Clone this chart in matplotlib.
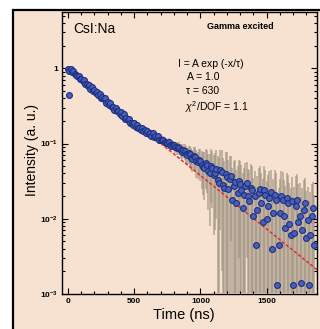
import numpy as np
import matplotlib
matplotlib.use("Agg")
import matplotlib.pyplot as plt
from matplotlib.patches import Rectangle
from matplotlib.ticker import LogLocator, FixedLocator, FuncFormatter, MultipleLocator

plt.rcParams['font.family'] = ['Liberation Sans', 'DejaVu Sans']
plt.rcParams['mathtext.fontset'] = 'custom'
plt.rcParams['mathtext.rm'] = 'Liberation Sans'
plt.rcParams['mathtext.it'] = 'Liberation Sans:italic'
plt.rcParams['mathtext.bf'] = 'Liberation Sans:bold'

# decay data, one row per 100 ns
time_ns = [0, 10, 20, 30, 40, 50, 60, 70, 80, 90,
           100, 110, 120, 130, 140, 150, 160, 170, 180, 190,
           200, 210, 220, 230, 240, 250, 260, 270, 280, 290,
           300, 310, 320, 330, 340, 350, 360, 370, 380, 390,
           400, 410, 420, 430, 440, 450, 460, 470, 480, 490,
           500, 510, 520, 530, 540, 550, 560, 570, 580, 590,
           600, 610, 620, 630, 640, 650, 660, 670, 680, 690,
           700, 710, 720, 730, 740, 750, 760, 770, 780, 790,
           800, 810, 820, 830, 840, 850, 860, 870, 880, 890,
           900, 910, 920, 930, 940, 950, 960, 970, 980, 990,
           1000, 1010, 1020, 1030, 1040, 1050, 1060, 1070, 1080, 1090,
           1100, 1110, 1120, 1130, 1140, 1150, 1160, 1170, 1180, 1190,
           1200, 1210, 1220, 1230, 1240, 1250, 1260, 1270, 1280, 1290,
           1300, 1310, 1320, 1330, 1340, 1350, 1360, 1370, 1380, 1390,
           1400, 1410, 1420, 1430, 1440, 1450, 1460, 1470, 1480, 1490,
           1500, 1510, 1520, 1530, 1540, 1550, 1560, 1570, 1580, 1590,
           1600, 1610, 1620, 1630, 1640, 1650, 1660, 1670, 1680, 1690,
           1700, 1710, 1720, 1730, 1740, 1750, 1760, 1770, 1780, 1790,
           1800, 1810, 1820, 1830, 1840, 1850, 1860]
intensity = [0.97, 0.93, 0.97, 0.88, 0.91, 0.83, 0.82, 0.78, 0.79, 0.72,
             0.72, 0.67, 0.69, 0.61, 0.62, 0.58, 0.60, 0.53, 0.56, 0.50,
             0.51, 0.47, 0.48, 0.44, 0.45, 0.40, 0.42, 0.39, 0.40, 0.35,
             0.36, 0.33, 0.35, 0.31, 0.31, 0.28, 0.30, 0.27, 0.27, 0.25,
             0.26, 0.235, 0.245, 0.215, 0.22, 0.205, 0.21, 0.188, 0.19, 0.178,
             0.185, 0.168, 0.176, 0.160, 0.162, 0.150, 0.163, 0.148, 0.150, 0.138,
             0.148, 0.134, 0.137, 0.127, 0.136, 0.122, 0.124, 0.120, 0.126, 0.111,
             0.112, 0.113, 0.111, 0.104, 0.101, 0.103, 0.104, 0.097, 0.094, 0.096,
             0.095, 0.089, 0.086, 0.090, 0.088, 0.081, 0.078, 0.082, 0.080, 0.073,
             0.070, 0.074, 0.072, 0.065, 0.062, 0.068, 0.066, 0.058, 0.056, 0.061,
             0.058, 0.052, 0.049, 0.047, 0.055, 0.052, 0.043, 0.040, 0.050, 0.047,
             0.038, 0.041, 0.046, 0.033, 0.030, 0.044, 0.042, 0.028, 0.026, 0.039,
             0.036, 0.025, 0.034, 0.037, 0.018, 0.027, 0.031, 0.016, 0.022, 0.032,
             0.029, 0.024, 0.014, 0.021, 0.027, 0.030, 0.020, 0.017, 0.026, 0.024,
             0.011, 0.020, 0.0045, 0.013, 0.022, 0.025, 0.016, 0.009, 0.024, 0.021,
             0.010, 0.015, 0.019, 0.023, 0.0040, 0.012, 0.021, 0.018, 0.0013, 0.0045,
             0.012, 0.020, 0.018, 0.011, 0.0075, 0.019, 0.016, 0.0085, 0.0060, 0.017,
             0.0013, 0.0065, 0.015, 0.018, 0.009, 0.011, 0.0014, 0.0070, 0.013, 0.016,
             0.0055, 0.0095, 0.0013, 0.0060, 0.011, 0.014, 0.0045]
errors = [0.03, 0.03, 0.03, 0.03, 0.03, 0.03, 0.03, 0.03, 0.03, 0.03,
          0.025, 0.025, 0.025, 0.025, 0.02, 0.02, 0.02, 0.02, 0.02, 0.02,
          0.02, 0.02, 0.018, 0.018, 0.018, 0.018, 0.016, 0.016, 0.016, 0.016,
          0.014, 0.014, 0.014, 0.014, 0.012, 0.012, 0.012, 0.012, 0.011, 0.011,
          0.011, 0.011, 0.010, 0.010, 0.009, 0.009, 0.009, 0.009, 0.008, 0.008,
          0.008, 0.010, 0.012, 0.012, 0.012, 0.012, 0.013, 0.013, 0.012, 0.012,
          0.013, 0.013, 0.012, 0.012, 0.013, 0.013, 0.012, 0.012, 0.013, 0.013,
          0.012, 0.012, 0.013, 0.013, 0.012, 0.012, 0.013, 0.013, 0.013, 0.013,
          0.014, 0.014, 0.015, 0.016, 0.018, 0.017, 0.016, 0.018, 0.020, 0.019,
          0.018, 0.020, 0.022, 0.021, 0.020, 0.022, 0.024, 0.023, 0.022, 0.024,
          0.026, 0.027, 0.028, 0.029, 0.030, 0.030, 0.030, 0.032, 0.034, 0.033,
          0.032, 0.034, 0.036, 0.035, 0.034, 0.037, 0.040, 0.036, 0.032, 0.038,
          0.040, 0.036, 0.034, 0.032, 0.030, 0.031, 0.030, 0.029, 0.028, 0.029,
          0.030, 0.028, 0.026, 0.027, 0.028, 0.027, 0.026, 0.027, 0.028, 0.026,
          0.024, 0.023, 0.022, 0.024, 0.026, 0.025, 0.024, 0.025, 0.026, 0.024,
          0.022, 0.023, 0.024, 0.022, 0.020, 0.022, 0.024, 0.022, 0.020, 0.021,
          0.022, 0.023, 0.024, 0.022, 0.020, 0.021, 0.022, 0.021, 0.020, 0.019,
          0.018, 0.020, 0.022, 0.021, 0.020, 0.019, 0.018, 0.019, 0.020, 0.019,
          0.018, 0.017, 0.016, 0.017, 0.018, 0.017, 0.016]

# single low point right at the start
early_t = [5]
early_i = [0.44]

# fitted line end points
fit_t = [0, 1880]
fit_i = [1.0, 0.0021]

y_bottom = 1e-3
t = np.array(time_ns)
y = np.array(intensity)
e = np.array(errors)
lower = np.minimum(e, y - y_bottom * 1.02)

bg = '#f7e2d2'
fig = plt.figure(figsize=(3.2, 3.29), dpi=100, facecolor='white')
fig.patches.append(Rectangle((13 / 320, -0.05), 1.0, 1.05 - 10 / 329,
                             transform=fig.transFigure, facecolor=bg,
                             edgecolor='black', linewidth=1.6, zorder=-10))

ax = fig.add_axes([62 / 320, 1 - 294 / 329, 255 / 320, 282 / 329])
ax.set_facecolor(bg)

mk = dict(ms=4.2, mfc='#4a60b4', mec='#1d2f85', mew=0.8, zorder=3)
ax.errorbar(t, y, yerr=[lower, e], fmt='none', ecolor='#9d917f', elinewidth=1.2,
            alpha=0.7, zorder=1)
ax.plot(fit_t, fit_i, color='#e0302a', lw=1.1, ls=(0, (2.2, 1.2)), zorder=2)
ax.plot(t, y, 'o', **mk)
ax.plot(early_t, early_i, 'o', **mk)

ax.set_yscale('log')
ax.set_xlim(-45, 1880)
ax.set_ylim(y_bottom, 5.6)

ax.xaxis.set_major_locator(FixedLocator([0, 500, 1000, 1500]))
ax.xaxis.set_minor_locator(MultipleLocator(100))
ax.yaxis.set_major_locator(FixedLocator([1e-3, 1e-2, 1e-1, 1]))
ax.yaxis.set_minor_locator(LogLocator(base=10, subs=np.arange(2, 10)))


def ylab(v, pos):
    p = int(round(np.log10(v)))
    if p == 0:
        return '1'
    return r'$\mathbf{10^{%d}}$' % p


ax.yaxis.set_major_formatter(FuncFormatter(ylab))
ax.tick_params(which='both', direction='in', top=True, right=True, width=0.8)
ax.tick_params(which='major', length=4, labelsize=6, pad=3)
ax.tick_params(which='minor', length=2)
for lab in ax.get_xticklabels():
    lab.set_fontweight('bold')
for lab in ax.get_yticklabels():
    lab.set_fontweight('bold')
for s in ax.spines.values():
    s.set_linewidth(1.0)

fig.text(32 / 320, 1 - 150 / 329, 'Intensity (a. u.)', rotation=90, fontsize=10,
         ha='center', va='center')
fig.text(184 / 320, 1 - 315 / 329, 'Time (ns)', fontsize=10.5, ha='center', va='center')

fig.text(73 / 320, 1 - 33 / 329, 'CsI:Na', fontsize=10, ha='left', va='baseline')
fig.text(240 / 320, 1 - 29 / 329, 'Gamma excited', fontsize=6.5, fontweight='bold',
         ha='center', va='baseline')
fig.text(178 / 320, 1 - 67 / 329, 'I = A exp (-x/\u03c4)', fontsize=7.5, va='baseline')
fig.text(187 / 320, 1 - 80 / 329, 'A = 1.0', fontsize=7.5, va='baseline')
fig.text(186 / 320, 1 - 94 / 329, '\u03c4 = 630', fontsize=7.5, va='baseline')
fig.text(185 / 320, 1 - 111 / 329, r'$\chi^2$/DOF = 1.1', fontsize=7.5, va='baseline')

fig.savefig('out.png', dpi=100, facecolor='white')
